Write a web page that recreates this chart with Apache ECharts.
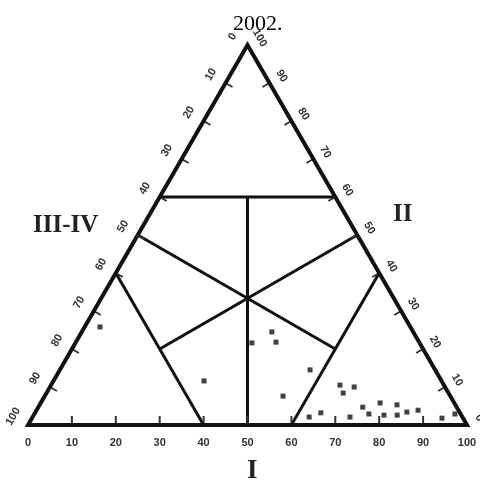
<!DOCTYPE html>
<html>
<head>
<meta charset="utf-8">
<title>2002.</title>
<script src="https://cdn.jsdelivr.net/npm/echarts@6/dist/echarts.min.js"></script>
<style>
  html, body { margin: 0; padding: 0; background: #fff; }
  #chart { width: 480px; height: 485px; }
</style>
</head>
<body>
<div id="chart"></div>
<script>
// Sample compositions (percent) — I along the base, II to the apex, III-IV to the lower-left corner
const compI     = [3.5, 34.3, 40.2, 43.3, 45.6, 57.0, 54.3, 65.8, 69.3, 67.6, 73.9, 77.3, 81.4, 86.9, 84.6, 76.2, 79.8, 82.8, 65.1, 63.0, 72.3, 93.4, 95.8];
const compII    = [25.8, 11.6, 21.6, 24.5, 21.8, 14.5, 7.6, 10.5, 10.0, 8.4, 4.7, 5.8, 5.3, 3.9, 3.4, 2.9, 2.6, 2.6, 3.2, 2.1, 2.1, 1.8, 2.9];
const compIIIIV = [70.7, 54.1, 38.2, 32.2, 32.6, 28.5, 38.1, 23.7, 20.7, 24.0, 21.4, 16.9, 13.3, 9.2, 12.0, 20.9, 17.6, 14.6, 31.7, 34.9, 25.6, 4.8, 1.3];

// Tick values shared by the three sides
const tickValues = [0, 10, 20, 30, 40, 50, 60, 70, 80, 90, 100];

// Field boundaries, each as two (I, II) end points
const dividers = [
  [[0, 60], [40, 60]],   // II = 60
  [[20, 60], [50, 0]],   // I = III-IV
  [[50, 50], [20, 20]],  // I = II
  [[0, 50], [60, 20]],   // II = III-IV
  [[0, 40], [40, 0]],    // III-IV = 60
  [[60, 40], [60, 0]]    // I = 60
];

const H = Math.sqrt(3) / 2;
// ternary (I, II) -> cartesian data coordinates
function cart(i, ii) { return [i + ii / 2, ii * H]; }

const INK = '#111';
const LABEL_FONT = 'Liberation Sans, Arial, sans-serif';

function renderFrame(params, api) {
  const P = (i, ii) => api.coord(cart(i, ii));
  const children = [];

  // field boundaries
  dividers.forEach(function (d) {
    const a = P(d[0][0], d[0][1]);
    const b = P(d[1][0], d[1][1]);
    children.push({
      type: 'line',
      shape: { x1: a[0], y1: a[1], x2: b[0], y2: b[1] },
      style: { stroke: INK, lineWidth: 3, lineCap: 'butt' }
    });
  });

  // sides: point for value, inward normal, rotation of the labels
  const c30 = Math.cos(Math.PI / 6), s30 = 0.5;
  const sides = [
    { at: v => P(v, 0),       n: [0, -1],     rot: 0,            tick: 9, gap: 18 },
    { at: v => P(100 - v, v), n: [-c30, s30], rot: -Math.PI / 3, tick: 8, gap: 14 },
    { at: v => P(0, 100 - v), n: [c30, s30],  rot: Math.PI / 3,  tick: 8, gap: 17 }
  ];

  sides.forEach(function (s) {
    tickValues.forEach(function (v) {
      const p = s.at(v);
      if (v > 0 && v < 100) {
        children.push({
          type: 'line',
          shape: { x1: p[0], y1: p[1], x2: p[0] + s.n[0] * s.tick, y2: p[1] + s.n[1] * s.tick },
          style: { stroke: '#333', lineWidth: 2 }
        });
      }
      children.push({
        type: 'text',
        x: p[0] - s.n[0] * s.gap,
        y: p[1] - s.n[1] * s.gap,
        rotation: s.rot,
        style: {
          text: String(v),
          fill: '#333',
          fontSize: 11,
          fontWeight: 'bold',
          fontFamily: LABEL_FONT,
          align: 'center',
          verticalAlign: 'middle',
          textAlign: 'center',
          textVerticalAlign: 'middle'
        }
      });
    });
  });

  // outer triangle
  children.push({
    type: 'polygon',
    shape: { points: [P(0, 0), P(100, 0), P(0, 100)] },
    style: { fill: 'none', stroke: INK, lineWidth: 4, lineJoin: 'miter' }
  });

  return { type: 'group', children: children };
}

const points = compI.map((v, k) => cart(v, compII[k]));

const chart = echarts.init(document.getElementById('chart'), null, { renderer: 'canvas' });
chart.setOption({
  animation: false,
  backgroundColor: '#fff',
  title: {
    text: '2002.',
    left: 228,
    top: 8,
    textStyle: { fontFamily: 'Liberation Serif, Times New Roman, serif', fontSize: 22, fontWeight: 'normal', color: '#000' }
  },
  grid: { left: 28, right: 13, top: 45, bottom: 60 },
  xAxis: { type: 'value', min: 0, max: 100, show: false },
  yAxis: { type: 'value', min: 0, max: 100 * H, show: false },
  graphic: [
    { type: 'text', left: 33, top: 213, style: { text: 'III-IV', font: 'bold 25px Liberation Serif, serif', fill: '#222' } },
    { type: 'text', left: 393, top: 202, style: { text: 'II', font: 'bold 25px Liberation Serif, serif', fill: '#222' } },
    { type: 'text', left: 247, top: 458, style: { text: 'I', font: 'bold 27px Liberation Serif, serif', fill: '#222' } }
  ],
  series: [
    {
      type: 'custom',
      renderItem: renderFrame,
      data: [[0, 0]],
      silent: true,
      z: 2
    },
    {
      type: 'scatter',
      data: points,
      symbol: 'rect',
      symbolSize: 5,
      itemStyle: { color: INK },
      z: 5
    }
  ]
});
</script>
</body>
</html>
